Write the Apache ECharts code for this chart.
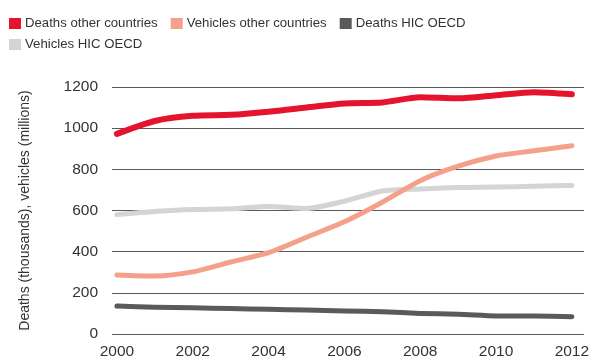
<!DOCTYPE html>
<html>
<head>
<meta charset="utf-8">
<script src="https://cdn.jsdelivr.net/npm/echarts@6/dist/echarts.min.js"></script>
<style>
html,body{margin:0;padding:0;background:#fff;}
#chart{width:593px;height:363px;}
</style>
</head>
<body>
<div id="chart"></div>
<script>
// Years on the horizontal axis
const years = [2000, 2001, 2002, 2003, 2004, 2005, 2006, 2007, 2008, 2009, 2010, 2011, 2012];
const yearTicks = [2000, 2002, 2004, 2006, 2008, 2010, 2012];

// Road traffic deaths (thousands) and registered vehicles (millions)
const deathsOther   = [972, 1035, 1060, 1065, 1080, 1100, 1120, 1125, 1150, 1145, 1160, 1175, 1165];
const vehiclesOther = [287, 282, 302, 350, 395, 470, 545, 640, 745, 815, 865, 890, 915];
const deathsHic     = [136, 130, 127, 124, 120, 116, 112, 108, 100, 96, 88, 87, 84];
const vehiclesHic   = [580, 595, 605, 608, 620, 610, 645, 695, 705, 712, 714, 718, 722];

const names = ['Deaths other countries', 'Vehicles other countries', 'Deaths HIC OECD', 'Vehicles HIC OECD'];
const colors = {
  'Deaths other countries': '#E5132E',
  'Vehicles other countries': '#F4A08B',
  'Deaths HIC OECD': '#5A5A5C',
  'Vehicles HIC OECD': '#D4D4D5'
};

const font = 'Liberation Sans, Arial, sans-serif';

function pairs(vals) { return years.map((y, i) => [y, vals[i]]); }

function line(name, vals, width, z) {
  return {
    name: name,
    type: 'line',
    data: pairs(vals),
    smooth: 0.25,
    symbol: 'none',
    z: z,
    itemStyle: { color: colors[name] },
    lineStyle: { color: colors[name], width: width, cap: 'round', join: 'round' }
  };
}

// Two legend rows: three items on the first, the last on its own row
function legendRow(items, top) {
  return {
    data: items,
    left: 9,
    top: top,
    itemWidth: 12,
    itemHeight: 11,
    itemGap: 13,
    icon: 'rect',
    padding: 0,
    textStyle: { fontFamily: font, fontSize: 13.2, color: '#333', padding: [0, 0, 0, -1] }
  };
}

const chart = echarts.init(document.getElementById('chart'));
chart.setOption({
  animation: false,
  backgroundColor: '#fff',
  textStyle: { fontFamily: font },
  legend: [
    legendRow(names.slice(0, 3), 17),
    legendRow(names.slice(3), 38)
  ],
  grid: { left: 112, right: 9, top: 87, bottom: 29, containLabel: false },
  xAxis: {
    type: 'value',
    min: 1999.87,
    max: 2012.32,
    axisLine: { show: false },
    axisTick: { show: false },
    splitLine: { show: false },
    axisLabel: {
      customValues: yearTicks,
      margin: 10,
      fontSize: 15.5,
      color: '#333',
      fontFamily: font,
      formatter: v => String(v)
    }
  },
  yAxis: {
    type: 'value',
    min: 0,
    max: 1200,
    interval: 200,
    name: 'Deaths (thousands), vehicles (millions)',
    nameLocation: 'middle',
    nameGap: 80,
    nameTextStyle: { fontFamily: font, fontSize: 14, color: '#333' },
    axisLine: { show: false },
    axisTick: { show: false },
    axisLabel: { margin: 14, fontSize: 15.5, color: '#333', fontFamily: font, formatter: v => String(v) },
    splitLine: { lineStyle: { color: '#5a5a5a', width: 1 } }
  },
  series: [
    line('Vehicles HIC OECD', vehiclesHic, 5, 2),
    line('Deaths HIC OECD', deathsHic, 5, 3),
    line('Vehicles other countries', vehiclesOther, 5, 4),
    line('Deaths other countries', deathsOther, 6, 5)
  ]
});
</script>
</body>
</html>
